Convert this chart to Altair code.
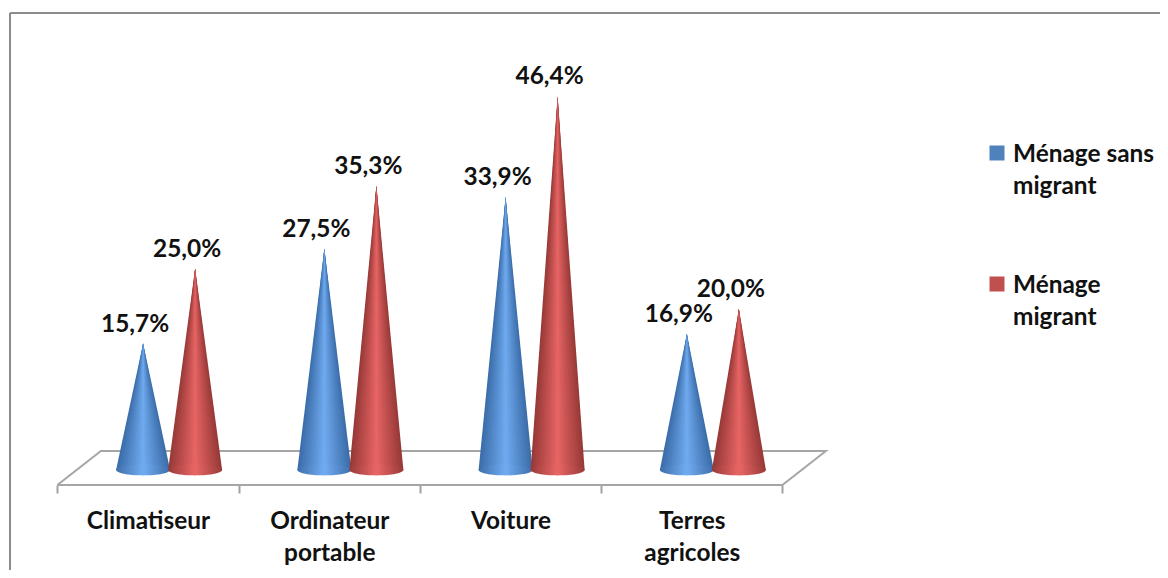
import json
import altair as alt
import pandas as pd

categories = ["Climatiseur", "Ordinateur portable", "Voiture", "Terres agricoles"]
category_lines = [["Climatiseur"], ["Ordinateur", "portable"], ["Voiture"], ["Terres", "agricoles"]]
series = ["Ménage sans migrant", "Ménage migrant"]
series_lines = [["Ménage sans", "migrant"], ["Ménage", "migrant"]]
sans_migrant = [15.7, 27.5, 33.9, 16.9]
migrant = [25.0, 35.3, 46.4, 20.0]
colors = ["#4f81bd", "#c0504d"]
FONT = "Lato"
FS = 24.4

W = 1152
H = 562
X_SCALE = alt.Scale(domain=[-0.7724, 5.5834], nice=False, zero=False)
Y_SCALE = alt.Scale(domain=[-12.42, 57.39], nice=False, zero=False)
HALF = 0.149
OFFSET = {series[0]: -0.027, series[1]: 0.26}
EDGE = {series[0]: (0x3c, 0x6e, 0xaa), series[1]: (0x98, 0x3a, 0x38)}
MID = {series[0]: (0x72, 0xac, 0xf2), series[1]: (0xea, 0x66, 0x66)}
LEVELS = [1.0, 0.92, 0.84, 0.76, 0.68, 0.6, 0.52, 0.44, 0.36, 0.28, 0.2, 0.12, 0.05]


def shade(s, k):
    t = (1 - k) ** 1.0
    return "#%02x%02x%02x" % tuple(round(a + (b - a) * t) for a, b in zip(EDGE[s], MID[s]))


rows, tips = [], []
for s, vals in zip(series, [sans_migrant, migrant]):
    for i, (c, v) in enumerate(zip(categories, vals)):
        p = i + OFFSET[s]
        for k in LEVELS:
            for x, y in [(p - HALF * k, 0), (p, v), (p + HALF * k, 0)]:
                rows.append({"series": s, "cat": c, "k": k, "x": x, "y": y, "y0": 0})
        tips.append({"series": s, "cat": c, "x": p, "v": v, "base": 0,
                     "label": f"{v:.1f}%".replace(".", ",")})
cones = pd.DataFrame(rows)
tip_df = pd.DataFrame(tips)

floor = pd.DataFrame({"x": [-0.5, 3.5, 3.74, -0.26, -0.5],
                      "y": [-1.86, -1.86, 2.36, 2.36, -1.86],
                      "o": [0, 1, 2, 3, 4]})


def base_fill(s):
    stops = [alt.GradientStop(offset=(1 - k) / 2, color=shade(s, k)) for k in LEVELS]
    stops += [alt.GradientStop(offset=(1 + k) / 2, color=shade(s, k)) for k in reversed(LEVELS)]
    return alt.Gradient(gradient="linear", x1=0, x2=1, y1=0, y2=0, stops=stops)


ELLIPSE = "M-1,0 A1,0.2 0 1 0 1,0 A1,0.2 0 1 0 -1,0 Z"
SIZE = 2916
NOX = alt.X("x:Q", scale=X_SCALE, axis=None)
NOY = alt.Y("y:Q", scale=Y_SCALE, axis=None)

tick_axis = alt.Axis(orient="bottom", values=[-0.5, 0.5, 1.5, 2.5, 3.5], labels=False, title=None, domain=False,
                     grid=False, tickColor="#a0a0a0", tickWidth=2, tickSize=8, offset=-85)
floor_layer = alt.Chart(floor).mark_line(color="#a6a6a6", strokeWidth=2).encode(
    x=alt.X("x:Q", scale=X_SCALE, axis=tick_axis), y=NOY, order="o:Q")

names = json.dumps(category_lines, ensure_ascii=False)
label_axis = alt.Axis(orient="bottom", values=[0, 1, 2, 3], labelExpr=f"{names}[datum.value]", title=None,
                      domain=False, grid=False, ticks=False, labelFontSize=FS, labelFont=FONT,
                      labelFontWeight="bold", labelColor="#111111", labelPadding=8, labelOverlap=False,
                      labelBaseline="top", labelLineHeight=32, labelFlush=False, offset=-69)

layers = [floor_layer]
for s in series:
    part = cones[cones.series == s]
    for k in LEVELS:
        layers.append(alt.Chart(part[part.k == k]).mark_area(fill=shade(s, k), stroke=None).encode(
            x=NOX, y=NOY, y2="y0:Q", detail="cat:N"))
    layers.append(alt.Chart(tip_df[tip_df.series == s]).mark_point(
        filled=True, opacity=1, shape=ELLIPSE, size=SIZE, fill=base_fill(s), strokeWidth=0).encode(
        x=NOX, y=alt.Y("base:Q", scale=Y_SCALE, axis=None)))

labels = alt.Chart(tip_df).mark_text(font=FONT, fontSize=FS, fontWeight="bold", color="#111111",
                                     dx=-8, dy=-19, baseline="middle").encode(
    x=alt.X("x:Q", scale=X_SCALE, axis=label_axis), y=alt.Y("v:Q", scale=Y_SCALE, axis=None), text="label:N")
layers.append(labels)

# legend: square and two-line label per series
for s, lines, col, top in zip(series, series_lines, colors, [145, 276]):
    one = pd.DataFrame({"series": [s], "lines": [lines]})
    layers.append(alt.Chart(one).mark_square(color=col, size=225, opacity=1).encode(
        x=alt.value(989), y=alt.value(top)))
    layers.append(alt.Chart(one).mark_text(font=FONT, fontSize=FS, fontWeight="bold", color="#111111",
                                           align="left", baseline="middle", lineHeight=32).encode(
        x=alt.value(1005), y=alt.value(top + 2), text="lines"))

frame = pd.DataFrame({"a": [0]})
layers.append(alt.Chart(frame).mark_rule(color="#8c8c8c", strokeWidth=2).encode(
    x=alt.value(2), x2=alt.value(W), y=alt.value(5)))
layers.append(alt.Chart(frame).mark_rule(color="#8c8c8c", strokeWidth=2).encode(
    x=alt.value(2), y=alt.value(5), y2=alt.value(H)))

chart = alt.layer(*layers).resolve_axis(x="independent").resolve_scale(x="shared", y="shared").properties(
    width=W, height=H, padding=0, autosize=alt.AutoSizeParams(type="none"), background="white"
).configure_view(stroke=None)

chart.save("out.html", embed_options={"renderer": "svg", "actions": False})
